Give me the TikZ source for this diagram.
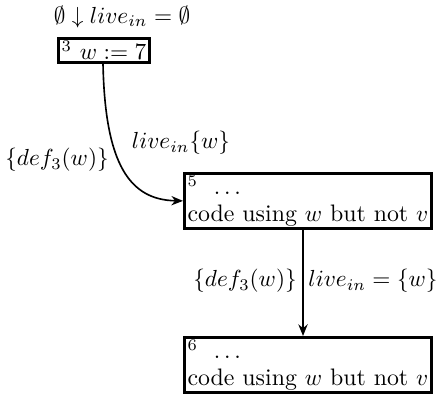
\documentclass[tikz,border=0pt]{standalone}
\usetikzlibrary{arrows.meta}
\begin{document}
\begin{tikzpicture}[x=0.43pt,y=-0.43pt,
  blk/.style={draw,line width=1.3pt,inner xsep=1.3pt,inner ysep=1pt,align=left,font=\fontsize{10.25}{11.3}\selectfont},
  lbl/.style={inner sep=0pt,font=\fontsize{10}{12}\selectfont},
  arr/.style={-{Stealth[length=5pt,width=4pt]},line width=0.7pt}]
\useasboundingbox (0,0) rectangle (438,395);
\node[lbl] (top) at (122,17) {$\emptyset\downarrow live_{in}=\emptyset$};
\node[blk,anchor=north west] (b3) at (57,37) {$^3$ $w := 7$};
\node[blk,anchor=north west] (b5) at (183,172) {$^5$ \ $\ldots$\\code using $w$ but not $v$};
\node[blk,anchor=north west] (b6) at (183,336) {$^6$ \ $\ldots$\\code using $w$ but not $v$};
\draw[arr] (b3.south -| 103,0) .. controls (105,165) and (130,200) .. (b5.west);
\draw[arr] (b5.south -| 303,0) -- (b6.north -| 303,0);
\node[lbl] (l1) at (57,160) {$\{def_3(w)\}$};
\node[lbl] (l2) at (181,143) {$live_{in}\{w\}$};
\node[lbl] (l3) at (245,281) {$\{def_3(w)\}$};
\node[lbl] (l4) at (373,281) {$live_{in}=\{w\}$};
\end{tikzpicture}
\end{document}
